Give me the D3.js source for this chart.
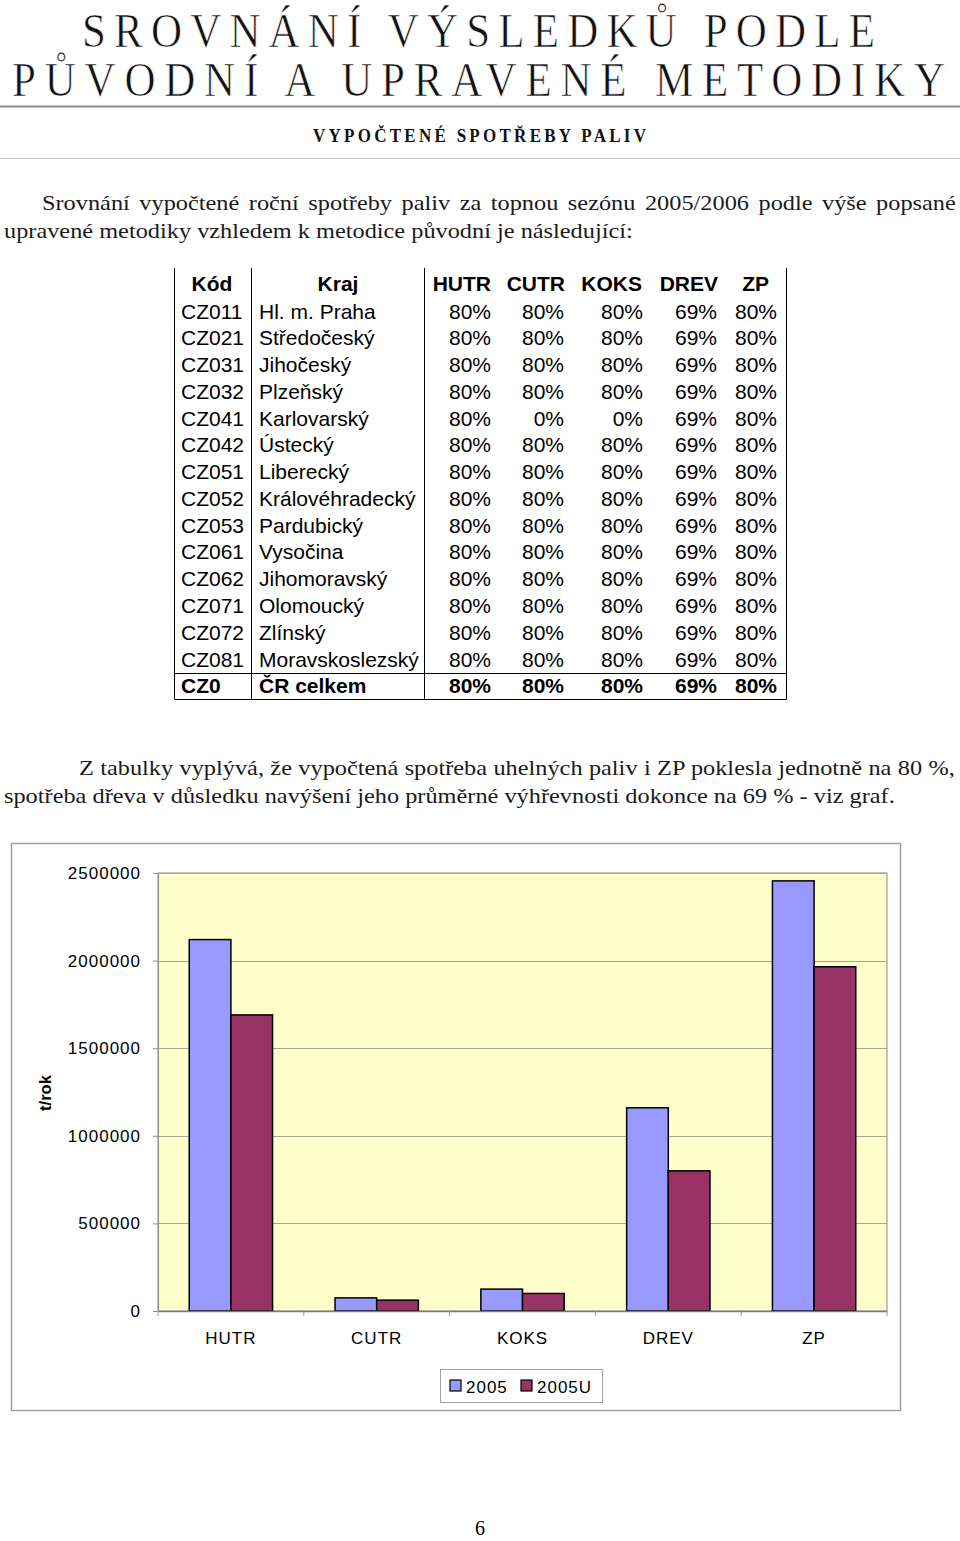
<!DOCTYPE html>
<html>
<head>
<meta charset="utf-8">
<script src="https://cdn.jsdelivr.net/npm/d3@7"></script>
<style>
  body { margin: 0; background: #fff; }
  svg { display: block; }
  .serif { font-family: "Liberation Serif", "Times New Roman", serif; }
  .sans { font-family: "Liberation Sans", Arial, sans-serif; }
</style>
</head>
<body>
<div class="page"></div>
<script>
// data z tabulky
const codes = ['CZ011','CZ021','CZ031','CZ032','CZ041','CZ042','CZ051','CZ052','CZ053','CZ061','CZ062','CZ071','CZ072','CZ081','CZ0']
const regions = ['Hl. m. Praha','Středočeský','Jihočeský','Plzeňský','Karlovarský','Ústecký','Liberecký','Královéhradecký','Pardubický','Vysočina','Jihomoravský','Olomoucký','Zlínský','Moravskoslezský','ČR celkem']
const hutr = [80,80,80,80,80,80,80,80,80,80,80,80,80,80,80]
const cutr = [80,80,80,80,0,80,80,80,80,80,80,80,80,80,80]
const koks = [80,80,80,80,0,80,80,80,80,80,80,80,80,80,80]
const drev = [69,69,69,69,69,69,69,69,69,69,69,69,69,69,69]
const zp   = [80,80,80,80,80,80,80,80,80,80,80,80,80,80,80]
const columns = ['HUTR','CUTR','KOKS','DREV','ZP']

// data grafu (t/rok)
const categories = ['HUTR','CUTR','KOKS','DREV','ZP']
const series = ['2005','2005U']
const values2005  = [2120000, 75000, 125000, 1160000, 2455000]
const values2005U = [1690000, 62000, 100000, 800000, 1965000]
const yTicks = [0, 500000, 1000000, 1500000, 2000000, 2500000]
const colors = ['#9999FF', '#993366']

const W = 960, H = 1541

const svg = d3.select('.page')
  .append('svg')
    .attr('width', W)
    .attr('height', H)

// ---- nadpis
const title = svg.append('g').attr('class', 'serif')

function stretchedLine(txt, x, baseline, len, size, sy, weight, thin) {
  title.append('g')
      .attr('transform', `translate(${x}, ${baseline}) scale(1, ${sy})`)
    .append('text')
      .attr('font-size', size)
      .attr('font-weight', weight || 'normal')
      .attr('textLength', len)
      .attr('lengthAdjust', 'spacing')
      .attr('fill', '#111')
      .attr('stroke', thin ? '#fff' : 'none')
      .attr('stroke-width', thin || 0)
      .text(txt)
}
stretchedLine('SROVNÁNÍ VÝSLEDKŮ PODLE', 82, 47, 793, 43, 1.14, null, 0.6)
stretchedLine('PŮVODNÍ A UPRAVENÉ METODIKY', 12, 96, 933, 43, 1.14, null, 0.6)

svg.append('line')
    .attr('x1', 0).attr('x2', W).attr('y1', 106.5).attr('y2', 106.5)
    .attr('stroke', '#8a8a8a').attr('stroke-width', 2)

stretchedLine('VYPOČTENÉ SPOTŘEBY PALIV', 313, 142, 333, 17, 1.08, 'bold')

svg.append('line')
    .attr('x1', 0).attr('x2', W).attr('y1', 158.5).attr('y2', 158.5)
    .attr('stroke', '#c8c8c8').attr('stroke-width', 1)

// ---- odstavce (řádky 1 a 3 jsou do bloku)
const para = [
  {t: 'Srovnání vypočtené roční spotřeby paliv za topnou sezónu 2005/2006 podle výše popsané', x: 42, y: 210, w: 914, just: true},
  {t: 'upravené metodiky vzhledem k metodice původní je následující:', x: 4, y: 238, w: 484, just: false},
  {t: 'Z tabulky vyplývá, že vypočtená spotřeba uhelných paliv i ZP poklesla jednotně na 80 %,', x: 79, y: 775, w: 876, just: true},
  {t: 'spotřeba dřeva v důsledku navýšení jeho průměrné výhřevnosti dokonce na 69 % - viz graf.', x: 4, y: 803, w: 891, just: false}
]
const paraG = svg.append('g').attr('class', 'serif')
const pLines = paraG.selectAll('g')
  .data(para)
  .enter()
  .append('g')
pLines.append('text')
    .attr('font-size', 21)
    .attr('fill', '#1a1a1a')
    .text(d => d.t)
// šířka podle posledního řádku, ostatní stejným poměrem
const natural = pLines.select('text').nodes().map(n => n.getComputedTextLength())
const k = para[3].w / natural[3]
pLines
    .attr('transform', d => `translate(${d.x}, ${d.y}) scale(${k}, 1)`)
  .select('text')
    .attr('word-spacing', (d, i) => {
      if (!d.just) return 0
      const spaces = d.t.split(' ').length - 1
      return (d.w / k - natural[i]) / spaces
    })

// ---- tabulka
const table = svg.append('g').attr('class', 'sans').attr('font-size', 21).attr('fill', '#000')
const rowY = d3.scaleLinear().domain([0, 14]).range([318.5, 693.3])
const colRight = [491, 564, 643, 717, 777]
const headRight = [491, 565, 642, 718, 769]
const colData = [hutr, cutr, koks, drev, zp]
const last = codes.length - 1

// čáry
const tTop = 268, tBot = 699.5
;[174.5, 251.5, 424.5, 786.5].forEach(x => {
  table.append('line').attr('x1', x).attr('x2', x).attr('y1', tTop).attr('y2', tBot)
    .attr('stroke', '#000').attr('stroke-width', 1)
})
;[673.5, tBot].forEach(y => {
  table.append('line').attr('x1', 174.5).attr('x2', 786.5).attr('y1', y).attr('y2', y)
    .attr('stroke', '#000').attr('stroke-width', 1)
})

// hlavička
const hy = rowY(-1) - 1
table.append('text').attr('x', 212).attr('y', hy).attr('text-anchor', 'middle').attr('font-weight', 'bold').text('Kód')
table.append('text').attr('x', 338).attr('y', hy).attr('text-anchor', 'middle').attr('font-weight', 'bold').text('Kraj')
columns.forEach((c, j) => {
  table.append('text').attr('x', headRight[j]).attr('y', hy).attr('text-anchor', 'end').attr('font-weight', 'bold').text(c)
})

const rows = table.selectAll('.row')
  .data(codes)
  .enter()
  .append('g')
    .attr('class', 'row')
    .attr('font-weight', (d, i) => i === last ? 'bold' : 'normal')

rows.append('text').attr('x', 181).attr('y', (d, i) => rowY(i)).text(d => d)
rows.append('text').attr('x', 259).attr('y', (d, i) => rowY(i)).text((d, i) => regions[i])
colData.forEach((arr, j) => {
  rows.append('text')
    .attr('x', colRight[j])
    .attr('y', (d, i) => rowY(i))
    .attr('text-anchor', 'end')
    .text((d, i) => arr[i] + '%')
})

// ---- graf
svg.append('rect')
    .attr('x', 11.5).attr('y', 843.5).attr('width', 889).attr('height', 567)
    .attr('fill', '#fff').attr('stroke', '#a0a0a0').attr('stroke-width', 1.5)

const plot = {left: 158, right: 887, top: 873, bottom: 1311}

const x = d3.scaleBand().domain(categories).range([plot.left, plot.right])
const bw = x.bandwidth()
const xs = d3.scaleBand().domain(series).range([bw * 0.75 / 3.5, bw * 2.75 / 3.5])
const y = d3.scaleLinear().domain([0, 2500000]).range([plot.bottom, plot.top])

const chart = svg.append('g').attr('class', 'sans')

chart.append('rect')
    .attr('x', plot.left).attr('y', plot.top)
    .attr('width', plot.right - plot.left).attr('height', plot.bottom - plot.top)
    .attr('fill', '#FFFFCC').attr('stroke', '#8c8c8c').attr('stroke-width', 1)

// mřížka
chart.append('g')
  .selectAll('line')
  .data(yTicks.filter(d => d > 0))
  .enter()
  .append('line')
    .attr('x1', plot.left).attr('x2', plot.right)
    .attr('y1', d => Math.round(y(d)) + 0.5).attr('y2', d => Math.round(y(d)) + 0.5)
    .attr('stroke', '#a6a690').attr('stroke-width', 1)

// osa y
const yAxis = chart.append('g')
    .attr('transform', `translate(${plot.left}, 0)`)
    .call(d3.axisLeft(y).tickValues(yTicks).tickSize(5).tickPadding(12).tickFormat(d3.format('d')))
yAxis.select('.domain').attr('stroke', '#8c8c8c')
yAxis.selectAll('.tick line').attr('stroke', '#8c8c8c')
yAxis.selectAll('text')
    .attr('font-size', 17)
    .attr('font-family', '"Liberation Sans", Arial, sans-serif')
    .attr('letter-spacing', 1)
    .attr('fill', '#000')

chart.append('text')
    .attr('transform', 'translate(51, 1093) rotate(-90)')
    .attr('text-anchor', 'middle')
    .attr('font-size', 16.5)
    .attr('font-weight', 'bold')
    .text('t/rok')

// sloupce
const bars = chart.append('g')
  .selectAll('g')
  .data(categories)
  .enter()
  .append('g')
    .attr('transform', d => `translate(${x(d)}, 0)`)

bars.selectAll('rect')
  .data((d, i) => [values2005[i], values2005U[i]].map((v, k) => ({s: series[k], v: v, k: k})))
  .enter()
  .append('rect')
    .attr('x', d => xs(d.s))
    .attr('y', d => y(d.v))
    .attr('width', xs.bandwidth())
    .attr('height', d => y(0) - y(d.v))
    .attr('fill', d => colors[d.k])
    .attr('stroke', '#000')
    .attr('stroke-width', 1.5)

// osa x
const xAxis = chart.append('g')
    .attr('transform', `translate(0, ${plot.bottom})`)
    .call(d3.axisBottom(x).tickSize(0).tickPadding(21))
xAxis.select('.domain').attr('stroke', '#7a7a7a').attr('stroke-width', 1.5)
xAxis.selectAll('text')
    .attr('font-size', 17)
    .attr('font-family', '"Liberation Sans", Arial, sans-serif')
    .attr('letter-spacing', 1)
    .attr('fill', '#000')

// dělicí značky mezi kategoriemi
chart.append('g')
  .selectAll('line')
  .data(categories.concat(['end']))
  .enter()
  .append('line')
    .attr('x1', (d, i) => plot.left + i * bw).attr('x2', (d, i) => plot.left + i * bw)
    .attr('y1', plot.bottom).attr('y2', plot.bottom + 5)
    .attr('stroke', '#9a9a9a')

// legenda
const legend = chart.append('g').attr('transform', 'translate(440, 1369)')
legend.append('rect')
    .attr('x', 0.5).attr('y', 0.5).attr('width', 162).attr('height', 33)
    .attr('fill', '#fff').attr('stroke', '#a0a0a0')
const legX = [10, 81]
series.forEach((s, k) => {
  legend.append('rect')
      .attr('x', legX[k]).attr('y', 11).attr('width', 11).attr('height', 11)
      .attr('fill', colors[k]).attr('stroke', '#000').attr('stroke-width', 1.2)
  legend.append('text')
      .attr('x', legX[k] + 16).attr('y', 23.5)
      .attr('font-size', 17)
      .attr('letter-spacing', 1)
      .text(s)
})

// číslo strany
svg.append('text')
    .attr('class', 'serif')
    .attr('x', 480).attr('y', 1535)
    .attr('text-anchor', 'middle')
    .attr('font-size', 20)
    .text('6')
</script>
</body>
</html>
